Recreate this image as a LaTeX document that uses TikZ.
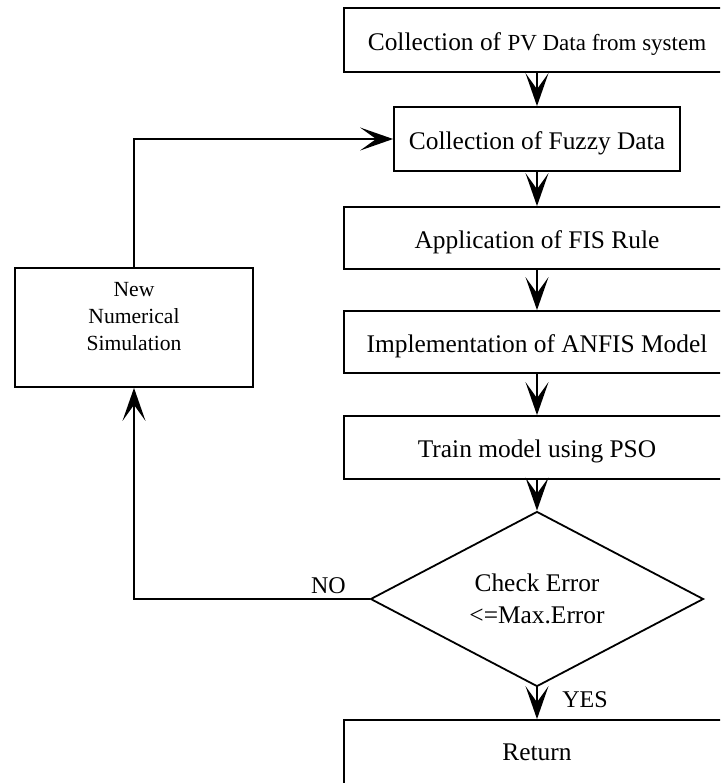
\documentclass[tikz,border=0pt]{standalone}
\usepackage{fontspec}
\setmainfont{Liberation Serif}
\usetikzlibrary{arrows.meta,shapes.geometric}
\newcommand{\boxfont}{\fontsize{12.7}{16}\selectfont}
\newcommand{\smallboxfont}{\fontsize{11.5}{14}\selectfont}
\tikzset{
  flowbox/.style={draw, line width=0.9pt, rectangle, inner sep=0pt,
    minimum height=32pt, font=\boxfont, text height=12pt, text depth=2pt},
  widebox/.style={flowbox, minimum width=193pt},
  conn/.style={line width=0.8pt, -{Stealth[length=16.5pt,width=11.5pt,inset=8pt]}},
  lbl/.style={font=\fontsize{12}{14}\selectfont, inner sep=0pt}
}
\begin{document}
\begin{tikzpicture}[x=0.5pt,y=-0.5pt]
\useasboundingbox (0,0) rectangle (720,783);
\clip (0,0) rectangle (720,783);
\node[widebox] (b1) at (537,40) {Collection of {\smallboxfont PV Data from system}};
\node[flowbox, minimum width=143pt] (b2) at (537,139) {Collection of Fuzzy Data};
\node[widebox, minimum height=31pt] (b3) at (537,238) {Application of FIS Rule};
\node[widebox, minimum height=31pt] (b4) at (537,342) {Implementation of ANFIS Model};
\node[widebox, minimum height=31.5pt] (b5) at (537,447.5) {Train model using PSO};
\node[diamond, draw, line width=0.9pt, aspect=1.9, minimum width=166.5pt, minimum height=87.5pt,
      inner sep=0pt, align=center, font=\boxfont] (dec) at (537,599) {Check Error\\<=Max.Error};
\node[widebox, minimum height=40pt, text height=6pt, text depth=6pt] (ret) at (537,760) {Return};
\node[draw, line width=0.9pt, rectangle, minimum width=119pt, minimum height=59.5pt, inner sep=0pt] (sim) at (134,327.5) {};
\node[align=center, inner sep=0pt, font=\fontsize{10.8}{13.5}\selectfont] (simtxt) at (134,316.5) {New\\Numerical\\Simulation};
\draw[conn] (b1) -- (b2);
\draw[conn] (b2) -- (b3);
\draw[conn] (b3) -- (b4);
\draw[conn] (b4) -- (b5);
\draw[conn] (b5) -- (dec);
\draw[conn] (dec.south) -- (ret.north);
\node[lbl, anchor=base west] (yes) at (562,707) {YES};
\draw[conn] (dec.west) -| (sim.south);
\node[lbl, anchor=base] (no) at (328.5,593) {NO};
\draw[conn] (sim.north) |- (b2.west);
\end{tikzpicture}
\end{document}
